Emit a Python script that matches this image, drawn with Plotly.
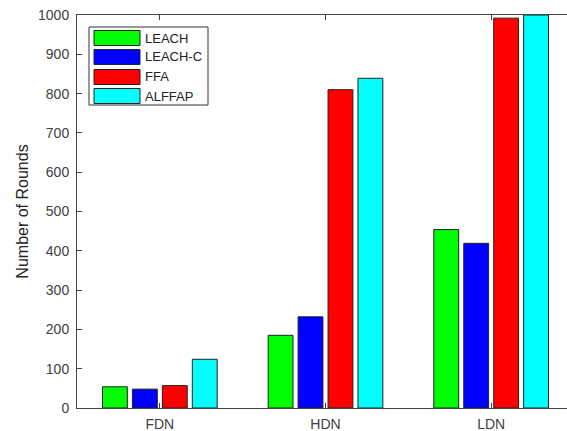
import plotly.graph_objects as go

categories = ["FDN", "HDN", "LDN"]
series_names = ["LEACH", "LEACH-C", "FFA", "ALFFAP"]
leach = [54, 185, 454]
leach_c = [48, 232, 419]
ffa = [57, 810, 992]
alffap = [124, 839, 1000]
y_ticks = [0, 100, 200, 300, 400, 500, 600, 700, 800, 900, 1000]

colors = ["#00FF00", "#0000FF", "#FF0000", "#00FFFF"]
values = [leach, leach_c, ffa, alffap]

W, H = 567, 431
L, R, T, B = 77, 0, 15, 23
pw, ph = W - L - R, H - T - B
FONT = "Liberation Sans, Arial"

fig = go.Figure()
for name, vals, col in zip(series_names, values, colors):
    fig.add_trace(go.Bar(
        x=[1, 2, 3], y=vals, name=name,
        marker=dict(color=col, line=dict(color="#222222", width=1)),
        showlegend=False,
    ))

def px(x):
    return (x - L) / pw

def py(y):
    return (H - B - y) / ph

shapes = []
annotations = []
# legend box
shapes.append(dict(type="rect", xref="paper", yref="paper",
                   x0=px(89), x1=px(208), y0=py(105), y1=py(27),
                   line=dict(color="#333333", width=1), fillcolor="white", layer="above"))
centers = [38, 57, 77, 96]
for name, col, cy in zip(series_names, colors, centers):
    shapes.append(dict(type="rect", xref="paper", yref="paper",
                       x0=px(94), x1=px(140), y0=py(cy + 7.5), y1=py(cy - 7.5),
                       line=dict(color="#222222", width=1), fillcolor=col, layer="above"))
    annotations.append(dict(xref="paper", yref="paper", x=px(143), y=py(cy),
                            text=name, showarrow=False, xanchor="left", yanchor="middle",
                            font=dict(family=FONT, size=13, color="#222222")))

fig.update_layout(
    width=W, height=H,
    margin=dict(l=L, r=R, t=T, b=B, pad=0),
    paper_bgcolor="white", plot_bgcolor="white",
    barmode="group", bargap=0.277, bargroupgap=0.17,
    shapes=shapes, annotations=annotations,
    font=dict(family=FONT, size=14, color="#404040"),
)
fig.update_xaxes(
    range=[0.5, 3.5 - 7 / 166], tickvals=[1, 2, 3], ticktext=categories,
    showgrid=False, zeroline=False, showline=True, linecolor="#444444", linewidth=1,
    mirror="ticks", ticks="inside", ticklen=5, tickcolor="#444444",
    tickfont=dict(size=14, color="#404040"), ticklabelstandoff=3,
)
fig.update_yaxes(
    range=[0, 1000], tickvals=y_ticks,
    showgrid=False, zeroline=False, showline=True, linecolor="#444444", linewidth=1,
    ticks="inside", ticklen=5, tickcolor="#444444",
    tickfont=dict(size=14, color="#404040"), ticklabelstandoff=4,
    title=dict(text="Number of Rounds", font=dict(size=16, color="#262626"), standoff=5),
)
fig.write_html("out.html", config={"displayModeBar": False},
               post_script="document.body.style.margin='0';document.body.style.overflow='hidden';")
